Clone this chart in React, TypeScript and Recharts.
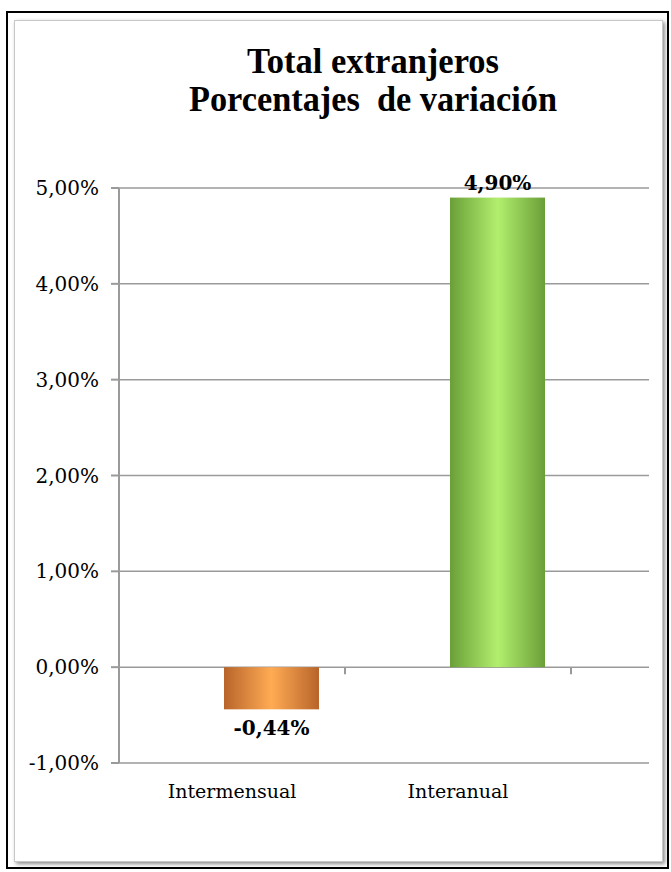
import React from "react";
import { BarChart, Bar, XAxis, YAxis, CartesianGrid, ReferenceLine, LabelList } from "recharts";

const categories = ["Intermensual", "Interanual"];
const values = [-0.44, 4.9];
const yTicks = [-1, 0, 1, 2, 3, 4, 5];
const titleLines = ["Total extranjeros", "Porcentajes  de variación"];

// bars sit right of their category centre, as in the original sheet
const BAR_SHIFT = 39;
const BAND = 226;

const data = categories.map((name, i) => ({ name, value: values[i] }));

const fmt = (v: number) => v.toFixed(2).replace(".", ",") + "%";

const serif = "'DejaVu Serif', serif";

// eslint-disable-next-line @typescript-eslint/no-explicit-any
function ShiftedBar(props: any) {
  const { x, y, width, height, index } = props;
  const top = Math.min(y, y + height);
  return (
    <rect
      x={x + BAR_SHIFT}
      y={top}
      width={width}
      height={Math.abs(height)}
      fill={`url(#barGrad${index})`}
    />
  );
}

// eslint-disable-next-line @typescript-eslint/no-explicit-any
function BarLabel(props: any) {
  const { x, y, width, height, value } = props;
  const neg = Number(value) < 0;
  const end = neg ? Math.max(y, y + height) : Math.min(y, y + height);
  return (
    <text
      x={x + width / 2 + BAR_SHIFT}
      y={neg ? end + 26 : end - 8}
      textAnchor="middle"
      fontFamily={serif}
      fontWeight="bold"
      fontSize={20}
      fill="#000"
    >
      {fmt(Number(value))}
    </text>
  );
}

// eslint-disable-next-line @typescript-eslint/no-explicit-any
function CategoryTick(props: any) {
  const { x, y, payload } = props;
  return (
    <text x={x} y={y + 35} textAnchor="middle" fontFamily={serif} fontSize={19} fill="#000">
      {payload.value}
    </text>
  );
}

// eslint-disable-next-line @typescript-eslint/no-explicit-any
function ZeroTicks(props: any) {
  const { x1, y1 } = props;
  return (
    <g>
      {[1, 2].map((k) => (
        <line key={k} x1={x1 + BAND * k} x2={x1 + BAND * k} y1={y1} y2={y1 + 7} stroke="#999" strokeWidth={2} />
      ))}
    </g>
  );
}

export default function App() {
  return (
    <div style={{ position: "absolute", left: 0, top: 0, width: 671, height: 872, background: "#fff" }}>
      <div
        style={{
          position: "absolute",
          left: 6,
          top: 11,
          width: 663,
          height: 858,
          boxSizing: "border-box",
          border: "2px solid #000",
        }}
      />
      <div
        style={{
          position: "absolute",
          left: 14,
          top: 20,
          width: 649,
          height: 842,
          boxSizing: "border-box",
          border: "1px solid #c8c8c8",
          boxShadow: "2px 2px 4px rgba(0,0,0,0.45)",
          background: "#fff",
        }}
      />
      <div style={{ position: "absolute", left: 0, top: 0 }}>
        <BarChart width={671} height={872} data={data} margin={{ top: 188, right: 22, bottom: 79, left: 0 }}>
          <defs>
            <linearGradient id="barGrad0" x1="0" y1="0" x2="1" y2="0">
              <stop offset="0%" stopColor="#b8642a" />
              <stop offset="50%" stopColor="#ffab54" />
              <stop offset="100%" stopColor="#b8642a" />
            </linearGradient>
            <linearGradient id="barGrad1" x1="0" y1="0" x2="1" y2="0">
              <stop offset="0%" stopColor="#6a9f38" />
              <stop offset="50%" stopColor="#b2ef6e" />
              <stop offset="100%" stopColor="#6a9f38" />
            </linearGradient>
          </defs>
          <CartesianGrid vertical={false} stroke="#9a9a9a" strokeWidth={1.5} />
          <XAxis
            dataKey="name"
            height={30}
            axisLine={false}
            tickLine={false}
            tickSize={0}
            tickMargin={0}
            padding={{ left: 0, right: 78 }}
            tick={<CategoryTick />}
            interval={0}
          />
          <YAxis
            width={119}
            domain={[-1, 5]}
            ticks={yTicks}
            interval={0}
            tickFormatter={fmt}
            tick={{ fontFamily: serif, fontSize: 20, fill: "#000" }}
            axisLine={{ stroke: "#9a9a9a", strokeWidth: 2 }}
            tickLine={{ stroke: "#9a9a9a", strokeWidth: 2 }}
            tickSize={8}
            tickMargin={12}
          />
          <ReferenceLine y={0} stroke="#9a9a9a" strokeWidth={1.5} shape={<ZeroTicks />} />
          <Bar dataKey="value" barSize={95} shape={<ShiftedBar />} isAnimationActive={false}>
            <LabelList dataKey="value" content={<BarLabel />} />
          </Bar>
        </BarChart>
      </div>
      <svg width={671} height={150} style={{ position: "absolute", left: 0, top: 0, pointerEvents: "none" }}>
        {titleLines.map((line, i) => (
          <text
            key={i}
            x={373}
            y={73 + i * 38}
            textAnchor="middle"
            fontFamily="'Liberation Serif', serif"
            fontWeight="bold"
            fontSize={36}
            textLength={i === 0 ? 252 : 368}
            lengthAdjust="spacingAndGlyphs"
            fill="#000"
            style={{ whiteSpace: "pre" }}
          >
            {line}
          </text>
        ))}
      </svg>
    </div>
  );
}
